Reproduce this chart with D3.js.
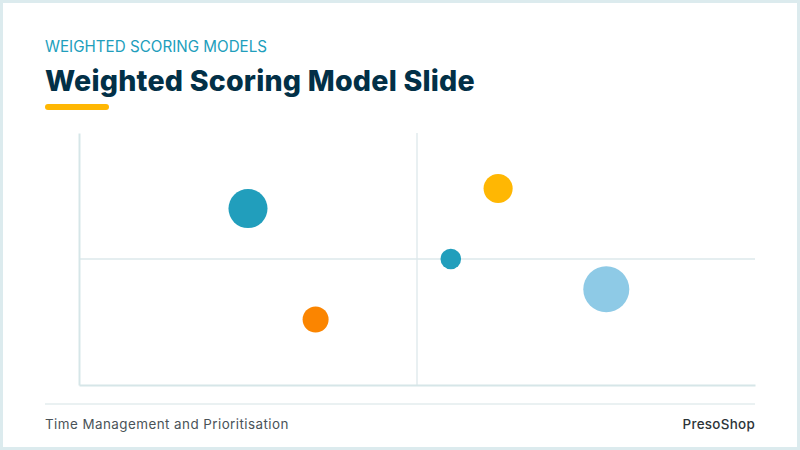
<!DOCTYPE html>
<html>
<head>
<meta charset="utf-8">
<script src="https://cdn.jsdelivr.net/npm/d3@7"></script>
<style>
  html, body { margin: 0; padding: 0; background: #dcebee; }
  svg { display: block; }
</style>
</head>
<body>
<svg id="chart" width="800" height="450"></svg>
<script>
const width = 800
const height = 450

// bubbles (x, y on a 0-100 grid, size relative)
const labels = ['A', 'B', 'C', 'D', 'E']
const xValues = [25, 35, 62, 55, 78]
const yValues = [70, 26, 78, 50, 38]
const sizes = [72, 32, 40, 20, 100]
const colors = ['#219ebc', '#fb8500', '#ffb703', '#219ebc', '#8ecae6']

const kicker = 'WEIGHTED SCORING MODELS'
const title = 'Weighted Scoring Model Slide'
const footerLeft = 'Time Management and Prioritisation'
const footerRight = 'PresoShop'

const plot = { left: 79, right: 755, top: 133, bottom: 385 }

const svg = d3.select('#chart')

// slide card with a thin frame
svg.append('rect')
  .attr('x', 3).attr('y', 3)
  .attr('width', width - 6).attr('height', height - 6)
  .attr('fill', '#fff')

svg.append('text')
  .attr('x', 45).attr('y', 52)
  .attr('fill', '#219ebc')
  .style('font', '400 15.2px Inter, sans-serif')
  .text(kicker)

svg.append('text')
  .attr('x', 45).attr('y', 91)
  .attr('fill', '#023047')
  .style('font', '800 28.6px Inter, sans-serif')
  .style('letter-spacing', '0.2px')
  .text(title)

svg.append('line')
  .attr('x1', 48).attr('x2', 106)
  .attr('y1', 107).attr('y2', 107)
  .attr('stroke', '#ffb703')
  .attr('stroke-width', 6)
  .attr('stroke-linecap', 'round')

const x = d3.scaleLinear().domain([0, 100]).range([plot.left, plot.right])
const y = d3.scaleLinear().domain([0, 100]).range([plot.bottom, plot.top])
const r = d3.scaleSqrt().domain([0, d3.max(sizes)]).range([0, 23])

const gridColor = '#dde8eb'

// quadrant lines through the middle
svg.append('line')
  .attr('x1', x(50)).attr('x2', x(50))
  .attr('y1', y(100)).attr('y2', y(0))
  .attr('stroke', gridColor).attr('stroke-width', 1.3)
svg.append('line')
  .attr('x1', x(0)).attr('x2', x(100))
  .attr('y1', y(50)).attr('y2', y(50))
  .attr('stroke', gridColor).attr('stroke-width', 1.6)

// axes without ticks
svg.append('g')
  .attr('transform', `translate(${x(0)},0)`)
  .call(d3.axisLeft(y).tickValues([]).tickSizeOuter(0))
  .call(g => g.select('.domain').attr('stroke', '#d6e6e8').attr('stroke-width', 2))
svg.append('g')
  .attr('transform', `translate(0,${y(0)})`)
  .call(d3.axisBottom(x).tickValues([]).tickSizeOuter(0))
  .call(g => g.select('.domain').attr('stroke', '#d6e6e8').attr('stroke-width', 2))

svg.append('g')
  .selectAll('circle')
  .data(labels)
  .join('circle')
  .attr('cx', (d, i) => x(xValues[i]))
  .attr('cy', (d, i) => y(yValues[i]))
  .attr('r', (d, i) => r(sizes[i]))
  .attr('fill', (d, i) => colors[i])

// footer
svg.append('line')
  .attr('x1', 45).attr('x2', 755)
  .attr('y1', 404).attr('y2', 404)
  .attr('stroke', '#e3ecee').attr('stroke-width', 1.5)

svg.append('text')
  .attr('x', 45).attr('y', 429)
  .attr('fill', '#4a5358')
  .style('font', '400 13.4px Inter, sans-serif')
  .style('letter-spacing', '0.45px')
  .text(footerLeft)

svg.append('text')
  .attr('x', 755).attr('y', 429)
  .attr('text-anchor', 'end')
  .attr('fill', '#2c3438')
  .style('font', '500 13.4px Inter, sans-serif')
  .style('letter-spacing', '0.3px')
  .text(footerRight)
</script>
</body>
</html>
